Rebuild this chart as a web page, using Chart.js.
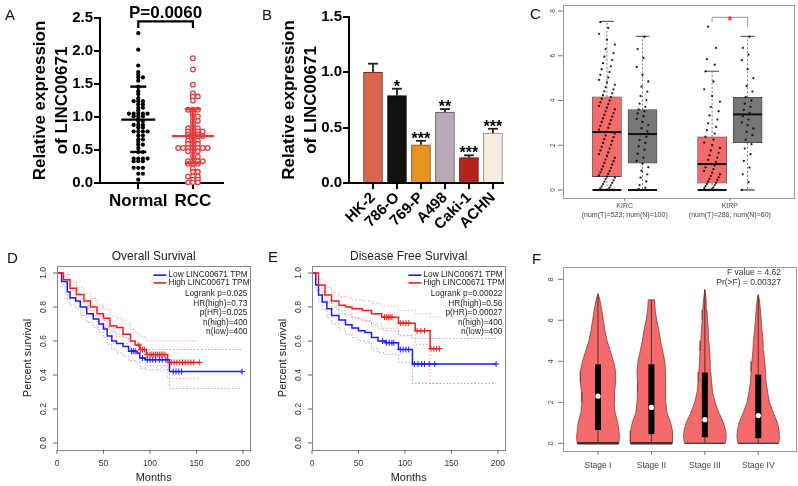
<!DOCTYPE html>
<html>
<head>
<meta charset="utf-8">
<script src="https://cdn.jsdelivr.net/npm/chart.js@4.4.1/dist/chart.umd.min.js"></script>
<style>
  body { margin: 0; background: #fff; }
  #fig { position: relative; width: 798px; height: 486px; overflow: hidden; font-family: 'Liberation Sans', Arial, sans-serif; }
  .panel { position: absolute; }
  .tag { position: absolute; font-size: 15px; line-height: 15px; color: #111; }
</style>
</head>
<body>
<div id="fig">
  <div class="panel" style="left:0;top:0;width:245px;height:230px"><canvas id="chartA"></canvas></div>
  <div class="panel" style="left:260px;top:0;width:250px;height:240px"><canvas id="chartB"></canvas></div>
  <div class="panel" style="left:530px;top:0;width:268px;height:240px"><canvas id="chartC"></canvas></div>
  <div class="panel" style="left:0;top:240px;width:265px;height:246px"><canvas id="chartD"></canvas></div>
  <div class="panel" style="left:265px;top:240px;width:265px;height:246px"><canvas id="chartE"></canvas></div>
  <div class="panel" style="left:530px;top:240px;width:268px;height:246px"><canvas id="chartF"></canvas></div>
  <div class="tag" style="left:5px;top:7px">A</div>
  <div class="tag" style="left:262px;top:7px">B</div>
  <div class="tag" style="left:530px;top:6px">C</div>
  <div class="tag" style="left:7px;top:250px">D</div>
  <div class="tag" style="left:268px;top:249px">E</div>
  <div class="tag" style="left:532px;top:251px">F</div>
</div>
<script>
// ---- A: scatter with mean +/- SD ----
const aGroups = ['Normal', 'RCC'];
const aNormal = [2.27, 2.02, 1.78, 1.68, 1.64, 1.60, 1.60, 1.55, 1.46, 1.39, 1.35, 1.28, 1.24, 1.24, 1.24, 1.19, 1.19, 1.14, 1.14, 1.10,
  1.05, 1.05, 1.05, 1.05, 1.05, 1.01, 1.01, 1.01, 0.97, 0.94, 0.94, 0.88, 0.88, 0.88, 0.84, 0.84, 0.78, 0.78, 0.78, 0.78,
  0.72, 0.72, 0.66, 0.66, 0.62, 0.58, 0.58, 0.53, 0.47, 0.47, 0.37, 0.37, 0.37, 0.37, 0.33, 0.33, 0.33, 0.23, 0.23, 0.23,
  0.14, 0.14, 0.05];
const aRcc = [1.89, 1.72, 1.49, 1.36, 1.31, 1.31, 1.25, 1.11, 1.11, 1.11, 1.06, 1.01, 1.01, 0.94, 0.94, 0.88, 0.83, 0.83, 0.83,
  0.78, 0.78, 0.78, 0.78, 0.74, 0.74, 0.74, 0.71, 0.71, 0.71, 0.71, 0.64, 0.64, 0.64, 0.59, 0.59, 0.59, 0.53, 0.53, 0.53,
  0.53, 0.53, 0.53, 0.53, 0.48, 0.48, 0.48, 0.40, 0.40, 0.33, 0.33, 0.33, 0.33, 0.29, 0.29, 0.29, 0.22, 0.17, 0.17, 0.10,
  0.10, 0.10, 0.05, 0.05, 0.01, 0.01, 0.01];
const aMean = [0.96, 0.71];
const aSdLow = [0.47, 0.30];
const aSdHigh = [1.46, 1.12];
const aPText = 'P=0.0060';
const aTicks = [0, 0.5, 1, 1.5, 2, 2.5];

// ---- B: cell line bars ----
const bLines = ['HK-2', '786-O', '769-P', 'A498', 'Caki-1', 'ACHN'];
const bMeans = [1.0, 0.79, 0.346, 0.64, 0.23, 0.45];
const bErr = [0.078, 0.062, 0.035, 0.028, 0.02, 0.04];
const bStars = ['', '*', '***', '**', '***', '***'];
const bTicks = [0, 0.5, 1, 1.5];

// ---- C: GEPIA box plots ----
const cTypes = ['KIRC', 'KIRP'];
const cCounts = ['(num(T)=523; num(N)=100)', '(num(T)=286; num(N)=60)'];
const cQ1T = [0.6, 0.3], cMedT = [2.59, 1.16], cQ3T = [4.17, 2.38], cMaxT = [7.54, 5.31];
const cQ1N = [1.2, 2.11], cMedN = [2.5, 3.38], cQ3N = [3.6, 4.14], cMaxN = [6.87, 6.87];
const cTicks = [0, 2, 4, 6, 8];
const cKircT = [0, 0, 0, 0, 0, 0, 0, 0, 0, 0, 0, 0, 0, 0, 0.03, 0.07, 0.11, 0.16, 0.21, 0.26, 0.32, 0.37, 0.43, 0.49, 0.55, 0.6,
  0.66, 0.72, 0.79, 0.85, 0.92, 0.99, 1.06, 1.14, 1.21, 1.29, 1.36, 1.44, 1.52, 1.6, 1.68, 1.77, 1.85, 1.93, 2.02, 2.1, 2.19,
  2.27, 2.36, 2.44, 2.53, 2.61, 2.7, 2.78, 2.87, 2.95, 3.04, 3.12, 3.2, 3.28, 3.36, 3.44, 3.52, 3.6, 3.68, 3.76, 3.84, 3.92,
  4.0, 4.08, 4.16, 4.24, 4.32, 4.41, 4.5, 4.6, 4.7, 4.81, 4.92, 5.03, 5.15, 5.27, 5.4, 5.53, 5.67, 5.81, 5.96, 6.12, 6.3,
  6.5, 6.72, 6.98, 7.25, 7.5];
const cKircN = [0, 0, 0, 0, 0.04, 0.1, 0.22, 0.38, 0.55, 0.7, 0.86, 1.02, 1.18, 1.3, 1.45, 1.62, 1.8, 1.95, 2.1, 2.24, 2.38, 2.5,
  2.62, 2.76, 2.9, 3.04, 3.18, 3.3, 3.42, 3.52, 3.6, 3.72, 3.86, 4.02, 4.2, 4.4, 4.62, 4.85, 5.15, 5.5, 5.9, 6.3, 6.85];
const cKirpT = [0, 0, 0, 0, 0, 0, 0, 0, 0, 0, 0, 0, 0.04, 0.08, 0.12, 0.17, 0.22, 0.27, 0.32, 0.38, 0.44, 0.5, 0.56, 0.63, 0.7,
  0.77, 0.85, 0.93, 1.01, 1.09, 1.17, 1.26, 1.35, 1.45, 1.55, 1.66, 1.77, 1.88, 2.0, 2.12, 2.25, 2.38, 2.52, 2.67, 2.82, 2.98,
  3.15, 3.33, 3.52, 3.72, 3.95, 4.2, 4.5, 4.85, 5.3, 5.6, 5.85, 6.35, 7.3];
const cKirpN = [0, 0.35, 0.7, 1.0, 1.3, 1.6, 1.85, 2.05, 2.25, 2.45, 2.6, 2.75, 2.9, 3.02, 3.15, 3.3, 3.45, 3.58, 3.72, 3.86,
  4.0, 4.15, 4.4, 4.65, 5.0, 5.4, 5.8, 6.05, 6.35, 6.85];

// ---- D / E: Kaplan-Meier ----
const kmGroups = ['Low LINC00671 TPM', 'High LINC00671 TPM'];
const kmXTicks = [0, 50, 100, 150, 200];
const kmYTicks = [0, 0.2, 0.4, 0.6, 0.8, 1.0];

const osLowMonths = [0, 5, 11, 14, 20, 25, 32, 39, 45, 50, 54, 59, 64, 71, 77, 86, 89, 95, 121, 199];
const osLow = [1, .95, .89, .855, .836, .80, .76, .73, .70, .67, .63, .60, .585, .567, .54, .53, .50, .49, .42, .42];
const osLowUpper = [1, .98, .935, .90, .88, .85, .81, .78, .75, .72, .685, .655, .64, .62, .595, .585, .56, .55, .55, .55];
const osLowLower = [1, .92, .85, .81, .79, .75, .71, .68, .65, .62, .58, .55, .53, .51, .485, .475, .44, .43, .32, .32];
const osLowCensor = [80, 82, 84, 92, 97, 100, 103, 106, 110, 113, 117, 125, 128, 131, 134, 199];
const osHighMonths = [0, 7, 14, 21, 29, 36, 43, 50, 57, 64, 71, 79, 84, 89, 96, 119, 153];
const osHigh = [1, .96, .91, .874, .836, .80, .76, .734, .69, .68, .64, .60, .576, .55, .52, .474, .474];
const osHighUpper = [1, .99, .95, .915, .88, .85, .81, .785, .745, .735, .70, .665, .645, .625, .60, .60, .60];
const osHighLower = [1, .93, .87, .83, .79, .75, .71, .68, .635, .625, .585, .545, .52, .49, .455, .38, .38];
const osHighCensor = [88, 90, 92, 94, 97, 100, 102, 104, 106, 108, 110, 112, 114, 116, 123, 126, 129, 132, 135, 138, 141, 144, 147, 153];
const osStats = ['Logrank p=0.025', 'HR(high)=0.73', 'p(HR)=0.025', 'n(high)=400', 'n(low)=400'];

const dfsLowMonths = [0, 4, 7, 11, 16, 21, 29, 36, 43, 50, 57, 64, 71, 79, 93, 108, 198];
const dfsLow = [1, .93, .87, .83, .79, .75, .724, .696, .677, .66, .65, .62, .60, .59, .55, .465, .465];
const dfsLowUpper = [1, .96, .91, .875, .84, .80, .78, .755, .74, .725, .715, .69, .67, .66, .63, .615, .615];
const dfsLowLower = [1, .90, .83, .785, .74, .70, .67, .64, .62, .60, .59, .555, .53, .52, .475, .35, .35];
const dfsLowCensor = [76, 80, 83, 86, 88, 95, 98, 101, 104, 110, 114, 118, 121, 126, 132, 198];
const dfsHighMonths = [0, 7, 14, 21, 29, 36, 43, 54, 64, 75, 93, 111, 127, 138];
const dfsHigh = [1, .93, .87, .836, .81, .80, .79, .78, .76, .74, .705, .66, .555, .555];
const dfsHighUpper = [1, .96, .915, .885, .86, .855, .845, .835, .82, .805, .78, .76, .74, .74];
const dfsHighLower = [1, .90, .83, .79, .76, .745, .735, .72, .70, .675, .635, .58, .35, .35];
const dfsHighCensor = [78, 80, 82, 84, 86, 95, 98, 101, 104, 113, 117, 121, 128, 131, 134, 137];
const dfsStats = ['Logrank p=0.00022', 'HR(high)=0.56', 'p(HR)=0.00027', 'n(high)=400', 'n(low)=400'];

// ---- F: violins by stage ----
const fStages = ['Stage I', 'Stage II', 'Stage III', 'Stage IV'];
const fQ1 = [0.65, 0.45, 0.30, 0.25];
const fMed = [2.3, 1.75, 1.15, 1.35];
const fQ3 = [3.85, 3.85, 3.45, 3.35];
const fMax = [7.3, 7.0, 7.5, 7.25];
const fLevels = [0, 0.3, 0.6, 1.0, 1.5, 2.0, 2.5, 3.0, 3.5, 4.0, 4.5, 5.0, 5.5, 6.0, 6.5, 7.0];
const fWidth1 = [.39, .40, .39, .37, .32, .30, .31, .33, .33, .29, .23, .17, .13, .10, .07, .035];
const fWidth2 = [.39, .40, .39, .36, .29, .27, .26, .26, .27, .25, .21, .17, .14, .10, .07, .06];
const fWidth3 = [.38, .40, .39, .35, .26, .19, .145, .125, .11, .10, .09, .075, .065, .05, .04, .025];
const fWidth4 = [.38, .40, .39, .36, .28, .21, .175, .145, .135, .12, .10, .09, .07, .055, .04, .02];
const fStats = ['F value = 4.62', 'Pr(>F) = 0.00327'];
const fTicks = [0, 2, 4, 6, 8];

// ---------------------------------------------------------------
const FONT = "'Liberation Sans', Arial, sans-serif";
Chart.defaults.font.family = FONT;
Chart.defaults.animation = false;
Chart.defaults.responsive = true;
Chart.defaults.maintainAspectRatio = false;
Chart.defaults.events = [];
Chart.defaults.plugins.legend.display = false;
Chart.defaults.plugins.tooltip.enabled = false;

const RED_A = '#e8383d';
const BOX_RED = '#f46b6b';
const KM_RED = '#ff1a1a';
const KM_BLUE = '#1a1aff';

function seg(ctx, x1, y1, x2, y2, color, width, dash) {
  ctx.save();
  ctx.strokeStyle = color;
  ctx.lineWidth = width;
  ctx.setLineDash(dash || []);
  ctx.beginPath();
  ctx.moveTo(x1, y1);
  ctx.lineTo(x2, y2);
  ctx.stroke();
  ctx.restore();
}

function label(ctx, s, x, y, size, opt) {
  opt = opt || {};
  ctx.save();
  ctx.font = (opt.bold ? 'bold ' : '') + size + 'px ' + FONT;
  ctx.fillStyle = opt.color || '#333';
  ctx.textAlign = opt.align || 'center';
  ctx.textBaseline = opt.base || 'middle';
  ctx.translate(x, y);
  if (opt.rot) ctx.rotate(opt.rot);
  ctx.fillText(s, 0, 0);
  ctx.restore();
}

function frame(ctx, a, color) {
  ctx.save();
  ctx.strokeStyle = color;
  ctx.lineWidth = 1;
  ctx.strokeRect(Math.round(a.left) + 0.5, Math.round(a.top) + 0.5, Math.round(a.right - a.left), Math.round(a.bottom - a.top));
  ctx.restore();
}

// beeswarm-like spread of equal values
function swarm(vals, center, step) {
  const seen = {};
  return vals.map(v => {
    const k = seen[v] = (seen[v] === undefined ? 0 : seen[v] + 1);
    const side = k % 2 ? 1 : -1;
    return { x: center + side * Math.ceil(k / 2) * step, y: v };
  });
}

function jitter(vals, center, spread) {
  return vals.map((v, i) => ({ x: center + (((i * 7) % 13) - 6) / 6 * spread, y: v }));
}

function steps(months, surv) {
  return months.map((m, i) => ({ x: m, y: surv[i] }));
}

function survAt(months, surv, t) {
  let s = surv[0];
  months.forEach((m, i) => { if (m <= t) s = surv[i]; });
  return s;
}

const axisGrid = { drawOnChartArea: false, drawTicks: true, tickLength: 6, color: '#000', lineWidth: 2 };
const axisBorder = { display: true, color: '#000', width: 2 };

// ---------------- A ----------------
const aMarks = {
  id: 'aMarks',
  afterDatasetsDraw(c) {
    const { ctx, scales: { x, y } } = c;
    const meanHalf = [17, 21];
    aGroups.forEach((g, i) => {
      const col = i === 0 ? '#000' : RED_A;
      const px = x.getPixelForValue(i + 1);
      seg(ctx, px, y.getPixelForValue(aSdLow[i]), px, y.getPixelForValue(aSdHigh[i]), col, 2.4);
      seg(ctx, px - 8, y.getPixelForValue(aSdLow[i]), px + 8, y.getPixelForValue(aSdLow[i]), col, 2.4);
      seg(ctx, px - 8, y.getPixelForValue(aSdHigh[i]), px + 8, y.getPixelForValue(aSdHigh[i]), col, 2.4);
      seg(ctx, px - meanHalf[i], y.getPixelForValue(aMean[i]), px + meanHalf[i], y.getPixelForValue(aMean[i]), col, 2.4);
    });
    const x1 = x.getPixelForValue(1), x2 = x.getPixelForValue(2);
    const yt = y.getPixelForValue(2.45), yb = y.getPixelForValue(2.35);
    ctx.save();
    ctx.strokeStyle = '#000';
    ctx.lineWidth = 2.2;
    ctx.beginPath();
    ctx.moveTo(x1, yb); ctx.lineTo(x1, yt); ctx.lineTo(x2, yt); ctx.lineTo(x2, yb);
    ctx.stroke();
    ctx.restore();
    label(ctx, aPText, (x1 + x2) / 2, yt - 3, 17, { bold: true, color: '#000', base: 'alphabetic' });
  }
};

new Chart(document.getElementById('chartA'), {
  type: 'scatter',
  data: {
    datasets: [
      { data: swarm(aNormal, 1, 0.085), pointRadius: 2.1, backgroundColor: '#000', borderWidth: 0, clip: false },
      { data: swarm(aRcc, 2, 0.09), pointRadius: 2.3, backgroundColor: '#fff', borderColor: RED_A, borderWidth: 1.3, clip: false }
    ]
  },
  options: {
    layout: { padding: { top: 18, right: 22 } },
    scales: {
      x: {
        type: 'linear', min: 0.3, max: 2.55,
        afterBuildTicks: s => { s.ticks = aGroups.map((g, i) => ({ value: i + 1 })); },
        ticks: { callback: v => aGroups[v - 1], font: { size: 17, weight: 'bold' }, color: '#000', padding: 2 },
        grid: axisGrid, border: axisBorder,
        afterFit: s => { s.height = 47; }
      },
      y: {
        min: 0, max: 2.5,
        afterBuildTicks: s => { s.ticks = aTicks.map(v => ({ value: v })); },
        ticks: { callback: v => v.toFixed(1), font: { size: 15, weight: 'bold' }, color: '#000', padding: 1 },
        grid: axisGrid, border: axisBorder,
        title: { display: true, text: ['Relative expression', 'of LINC00671'], color: '#000',
          font: { size: 17, weight: 'bold', lineHeight: 1.3 }, padding: { top: 29, bottom: 0 } },
        afterFit: s => { s.width = 100; }
      }
    }
  },
  plugins: [aMarks]
});

// ---------------- B ----------------
const bColors = ['#da6650', '#111111', '#e59420', '#b7aab6', '#b3241c', '#f6ede0'];
const bEdges = ['#7a2e20', '#000000', '#7a4a00', '#555555', '#5a0d08', '#888888'];
const bMarks = {
  id: 'bMarks',
  afterDatasetsDraw(c) {
    const { ctx, scales: { x, y } } = c;
    bLines.forEach((l, i) => {
      const px = x.getPixelForValue(i + 1);
      const top = y.getPixelForValue(bMeans[i]);
      const cap = y.getPixelForValue(bMeans[i] + bErr[i]);
      seg(ctx, px, top, px, cap, '#222', 1.8);
      seg(ctx, px - 5, cap, px + 5, cap, '#222', 1.8);
      if (bStars[i]) label(ctx, bStars[i], px, cap + 3, 16, { bold: true, color: '#000', base: 'alphabetic' });
    });
  }
};

new Chart(document.getElementById('chartB'), {
  type: 'bar',
  data: {
    datasets: [{
      data: bLines.map((l, i) => ({ x: i + 1, y: bMeans[i] })),
      backgroundColor: bColors, borderColor: bEdges, borderWidth: 1, barThickness: 19
    }]
  },
  options: {
    layout: { padding: { top: 17, right: 7 } },
    scales: {
      x: {
        type: 'linear', min: 0, max: 6.42, offset: false,
        afterBuildTicks: s => { s.ticks = bLines.map((l, i) => ({ value: i + 1 })); },
        ticks: { callback: v => bLines[v - 1], font: { size: 15, weight: 'bold' }, color: '#000', padding: 0,
          minRotation: 45, maxRotation: 45, autoSkip: false },
        grid: Object.assign({}, axisGrid, { offset: false }), border: axisBorder,
        afterFit: s => { s.height = 57; }
      },
      y: {
        min: 0, max: 1.5,
        afterBuildTicks: s => { s.ticks = bTicks.map(v => ({ value: v })); },
        ticks: { callback: v => v.toFixed(1), font: { size: 15, weight: 'bold' }, color: '#000', padding: 1 },
        grid: axisGrid, border: axisBorder,
        title: { display: true, text: ['Relative expression', 'of LINC00671'], color: '#000',
          font: { size: 17, weight: 'bold', lineHeight: 1.3 }, padding: { top: 18, bottom: 0 } },
        afterFit: s => { s.width = 89; }
      }
    }
  },
  plugins: [bMarks]
});

// ---------------- C ----------------
const cOff = 0.169;
const cBoxes = [];
cTypes.forEach((t, i) => {
  cBoxes.push({ pos: i + 1 - cOff, q1: cQ1T[i], med: cMedT[i], q3: cQ3T[i], max: cMaxT[i] });
  cBoxes.push({ pos: i + 1 + cOff, q1: cQ1N[i], med: cMedN[i], q3: cQ3N[i], max: cMaxN[i] });
});
const cMarks = {
  id: 'cMarks',
  beforeDatasetsDraw(c) {
    const { ctx, scales: { x, y } } = c;
    cBoxes.forEach(b => {
      const px = x.getPixelForValue(b.pos);
      seg(ctx, px, y.getPixelForValue(b.q3), px, y.getPixelForValue(b.max), '#555', 0.8, [2, 2]);
      seg(ctx, px, y.getPixelForValue(b.q1), px, y.getPixelForValue(0), '#555', 0.8, [2, 2]);
      seg(ctx, px - 7, y.getPixelForValue(b.max), px + 7, y.getPixelForValue(b.max), '#444', 1);
    });
  },
  afterDatasetsDraw(c) {
    const { ctx, scales: { x, y } } = c;
    const zeroHalf = [14.5, 14.5, 14.5, 7];
    cBoxes.forEach((b, k) => {
      const px = x.getPixelForValue(b.pos);
      seg(ctx, px - 14.5, y.getPixelForValue(b.med), px + 14.5, y.getPixelForValue(b.med), '#111', 2);
      seg(ctx, px - zeroHalf[k], y.getPixelForValue(0), px + zeroHalf[k], y.getPixelForValue(0), '#111', k === 3 ? 1 : 2);
    });
  },
  afterDraw(c) {
    const { ctx, chartArea: a, scales: { x, y } } = c;
    frame(ctx, a, '#999');
    cTicks.forEach(v => {
      const py = y.getPixelForValue(v);
      seg(ctx, a.left - 5, py, a.left, py, '#777', 1);
      label(ctx, String(v), a.left - 10, py, 6.5, { rot: -Math.PI / 2, color: '#444' });
    });
    cTypes.forEach((t, i) => {
      const px = x.getPixelForValue(i + 1);
      seg(ctx, px, a.bottom, px, a.bottom + 3, '#777', 1);
      label(ctx, t, px, a.bottom + 8, 7, { color: '#444' });
      label(ctx, cCounts[i], px, a.bottom + 17, 7, { color: '#444' });
    });
    // significance bracket for KIRP
    const lx = x.getPixelForValue(2 - cOff), rx = x.getPixelForValue(2 + cOff);
    const ty = y.getPixelForValue(7.72);
    ctx.save();
    ctx.strokeStyle = '#999';
    ctx.lineWidth = 1;
    ctx.beginPath();
    ctx.moveTo(lx, y.getPixelForValue(7.5)); ctx.lineTo(lx, ty); ctx.lineTo(rx, ty); ctx.lineTo(rx, y.getPixelForValue(7.3));
    ctx.stroke();
    ctx.restore();
    label(ctx, '*', (lx + rx) / 2, ty + 4, 12, { bold: true, color: '#ff3030' });
  }
};

const cPts = { type: 'scatter', pointRadius: 1.15, backgroundColor: 'rgba(0,0,0,0.85)', borderWidth: 0, order: 1 };
const cBar = { grouped: false, borderColor: '#444', borderWidth: 0.8, borderSkipped: false, barThickness: 29, order: 2 };
new Chart(document.getElementById('chartC'), {
  type: 'bar',
  data: {
    datasets: [
      Object.assign({ data: cTypes.map((t, i) => ({ x: i + 1 - cOff, y: [cQ1T[i], cQ3T[i]] })), backgroundColor: BOX_RED }, cBar),
      Object.assign({ data: cTypes.map((t, i) => ({ x: i + 1 + cOff, y: [cQ1N[i], cQ3N[i]] })), backgroundColor: '#777777' }, cBar),
      Object.assign({ data: jitter(cKircT, 1 - cOff, 0.075) }, cPts),
      Object.assign({ data: jitter(cKircN, 1 + cOff, 0.055) }, cPts),
      Object.assign({ data: jitter(cKirpT, 2 - cOff, 0.075) }, cPts),
      Object.assign({ data: jitter(cKirpN, 2 + cOff, 0.055) }, cPts)
    ]
  },
  options: {
    layout: { padding: { left: 33, right: 1, top: 5, bottom: 42 } },
    scales: {
      x: { type: 'linear', display: false, min: 0.413, max: 2.61, offset: false },
      y: { display: false, min: -0.358, max: 8.27 }
    }
  },
  plugins: [cMarks]
});

// ---------------- D / E ----------------
function kmDecor(title, stats) {
  return {
    id: 'kmDecor',
    afterDraw(c) {
      const { ctx, chartArea: a, scales: { x, y } } = c;
      frame(ctx, a, '#888');
      kmXTicks.forEach(v => {
        const px = x.getPixelForValue(v);
        seg(ctx, px, a.bottom, px, a.bottom + 4, '#666', 1);
        label(ctx, String(v), px, a.bottom + 14, 8.5, { color: '#333' });
      });
      kmYTicks.forEach(v => {
        const py = y.getPixelForValue(v);
        seg(ctx, a.left - 4, py, a.left, py, '#666', 1);
        label(ctx, v.toFixed(1), a.left - 13, py, 8.5, { rot: -Math.PI / 2, color: '#333' });
      });
      label(ctx, title, (a.left + a.right) / 2, a.top - 10, 12, { color: '#222' });
      label(ctx, 'Months', (a.left + a.right) / 2, a.bottom + 28, 11, { color: '#222' });
      label(ctx, 'Percent survival', a.left - 29, (a.top + a.bottom) / 2, 11, { rot: -Math.PI / 2, color: '#222' });
      const lx = a.right - 97;
      [KM_BLUE, KM_RED].forEach((col, i) => {
        const ly = a.top + 9 + i * 7.7;
        seg(ctx, lx, ly, lx + 13, ly, col, 1.6);
        label(ctx, kmGroups[i], lx + 15, ly, 8.3, { align: 'left', color: '#222' });
      });
      stats.forEach((s, i) => label(ctx, s, a.right - 3, a.top + 28 + i * 9.4, 8.3, { align: 'right', color: '#222' }));
    }
  };
}

function kmChart(id, padLeft, padRight, low, high, title, stats) {
  const line = (pts, col, w, dash, order) => ({ type: 'line', data: pts, stepped: true, borderColor: col,
    borderWidth: w, borderDash: dash, pointRadius: 0, fill: false, order: order });
  const cens = (m, s, c, col) => ({ type: 'scatter', data: c.map(t => ({ x: t, y: survAt(m, s, t) })),
    pointStyle: 'cross', pointRadius: 3, borderColor: col, borderWidth: 1, order: 0 });
  new Chart(document.getElementById(id), {
    type: 'scatter',
    data: {
      datasets: [
        line(steps(low.m, low.up), 'rgba(90,90,255,0.55)', 1, [1.5, 2], 3),
        line(steps(low.m, low.lo), 'rgba(90,90,255,0.55)', 1, [1.5, 2], 3),
        line(steps(high.m, high.up), 'rgba(255,90,90,0.55)', 1, [1.5, 2], 3),
        line(steps(high.m, high.lo), 'rgba(255,90,90,0.55)', 1, [1.5, 2], 3),
        line(steps(low.m, low.s), KM_BLUE, 1.5, [], 2),
        line(steps(high.m, high.s), KM_RED, 1.5, [], 1),
        cens(low.m, low.s, low.c, KM_BLUE),
        cens(high.m, high.s, high.c, KM_RED)
      ]
    },
    options: {
      layout: { padding: { left: padLeft, right: padRight, top: 26.2, bottom: 36.2 } },
      scales: {
        x: { type: 'linear', display: false, min: 0, max: 208 },
        y: { display: false, min: -0.04, max: 1.04 }
      }
    },
    plugins: [kmDecor(title, stats)]
  });
}

kmChart('chartD', 57, 14.6,
  { m: osLowMonths, s: osLow, up: osLowUpper, lo: osLowLower, c: osLowCensor },
  { m: osHighMonths, s: osHigh, up: osHighUpper, lo: osHighLower, c: osHighCensor },
  'Overall Survival', osStats);
kmChart('chartE', 47, 24.6,
  { m: dfsLowMonths, s: dfsLow, up: dfsLowUpper, lo: dfsLowLower, c: dfsLowCensor },
  { m: dfsHighMonths, s: dfsHigh, up: dfsHighUpper, lo: dfsHighLower, c: dfsHighCensor },
  'Disease Free Survival', dfsStats);

// ---------------- F ----------------
const fWidths = [fWidth1, fWidth2, fWidth3, fWidth4];
function violinPath(center, widths, top) {
  const right = fLevels.map((v, i) => ({ x: center + widths[i], y: v }));
  right.push({ x: center, y: top });
  const left = fLevels.map((v, i) => ({ x: center - widths[i], y: v })).reverse();
  return right.concat(left, [{ x: center + widths[0], y: fLevels[0] }]);
}
const fMarks = {
  id: 'fMarks',
  afterDatasetsDraw(c) {
    const { ctx, scales: { x, y } } = c;
    const baseW = [2.5, 2.5, 1, 1];
    fStages.forEach((s, i) => {
      const px = x.getPixelForValue(i + 1);
      const y0 = y.getPixelForValue(0);
      seg(ctx, x.getPixelForValue(i + 1 - fWidths[i][0]), y0, x.getPixelForValue(i + 1 + fWidths[i][0]), y0, '#333', baseW[i]);
      seg(ctx, px, y0, px, y.getPixelForValue(fMax[i]), '#5a2a2a', 1);
      seg(ctx, px, y.getPixelForValue(fQ1[i]), px, y.getPixelForValue(fQ3[i]), '#000', 6);
      ctx.save();
      ctx.beginPath();
      ctx.arc(px, y.getPixelForValue(fMed[i]), 2.6, 0, Math.PI * 2);
      ctx.fillStyle = '#fff';
      ctx.fill();
      ctx.restore();
    });
  },
  afterDraw(c) {
    const { ctx, chartArea: a, scales: { x, y } } = c;
    frame(ctx, a, '#999');
    fTicks.forEach(v => {
      const py = y.getPixelForValue(v);
      seg(ctx, a.left - 5, py, a.left, py, '#777', 1);
      label(ctx, String(v), a.left - 12, py, 7.5, { rot: -Math.PI / 2, color: '#444' });
    });
    fStages.forEach((s, i) => {
      const px = x.getPixelForValue(i + 1);
      seg(ctx, px, a.bottom, px, a.bottom + 4, '#777', 1);
      label(ctx, s, px, a.bottom + 15, 8.5, { color: '#444' });
    });
    fStats.forEach((s, i) => label(ctx, s, a.right - 15, a.top + 6 + i * 10, 8.5, { align: 'right', color: '#333' }));
  }
};

new Chart(document.getElementById('chartF'), {
  type: 'scatter',
  data: {
    datasets: fStages.map((s, i) => ({
      type: 'line', data: violinPath(i + 1, fWidths[i], fMax[i]), fill: 'shape',
      backgroundColor: BOX_RED, borderColor: '#8a3a3a', borderWidth: 0.8, pointRadius: 0, tension: 0
    }))
  },
  options: {
    layout: { padding: { left: 33, right: 2, top: 27, bottom: 35 } },
    scales: {
      x: { type: 'linear', display: false, min: 0.345, max: 4.706 },
      y: { display: false, min: -0.376, max: 8.6 }
    }
  },
  plugins: [fMarks]
});
</script>
</body>
</html>
